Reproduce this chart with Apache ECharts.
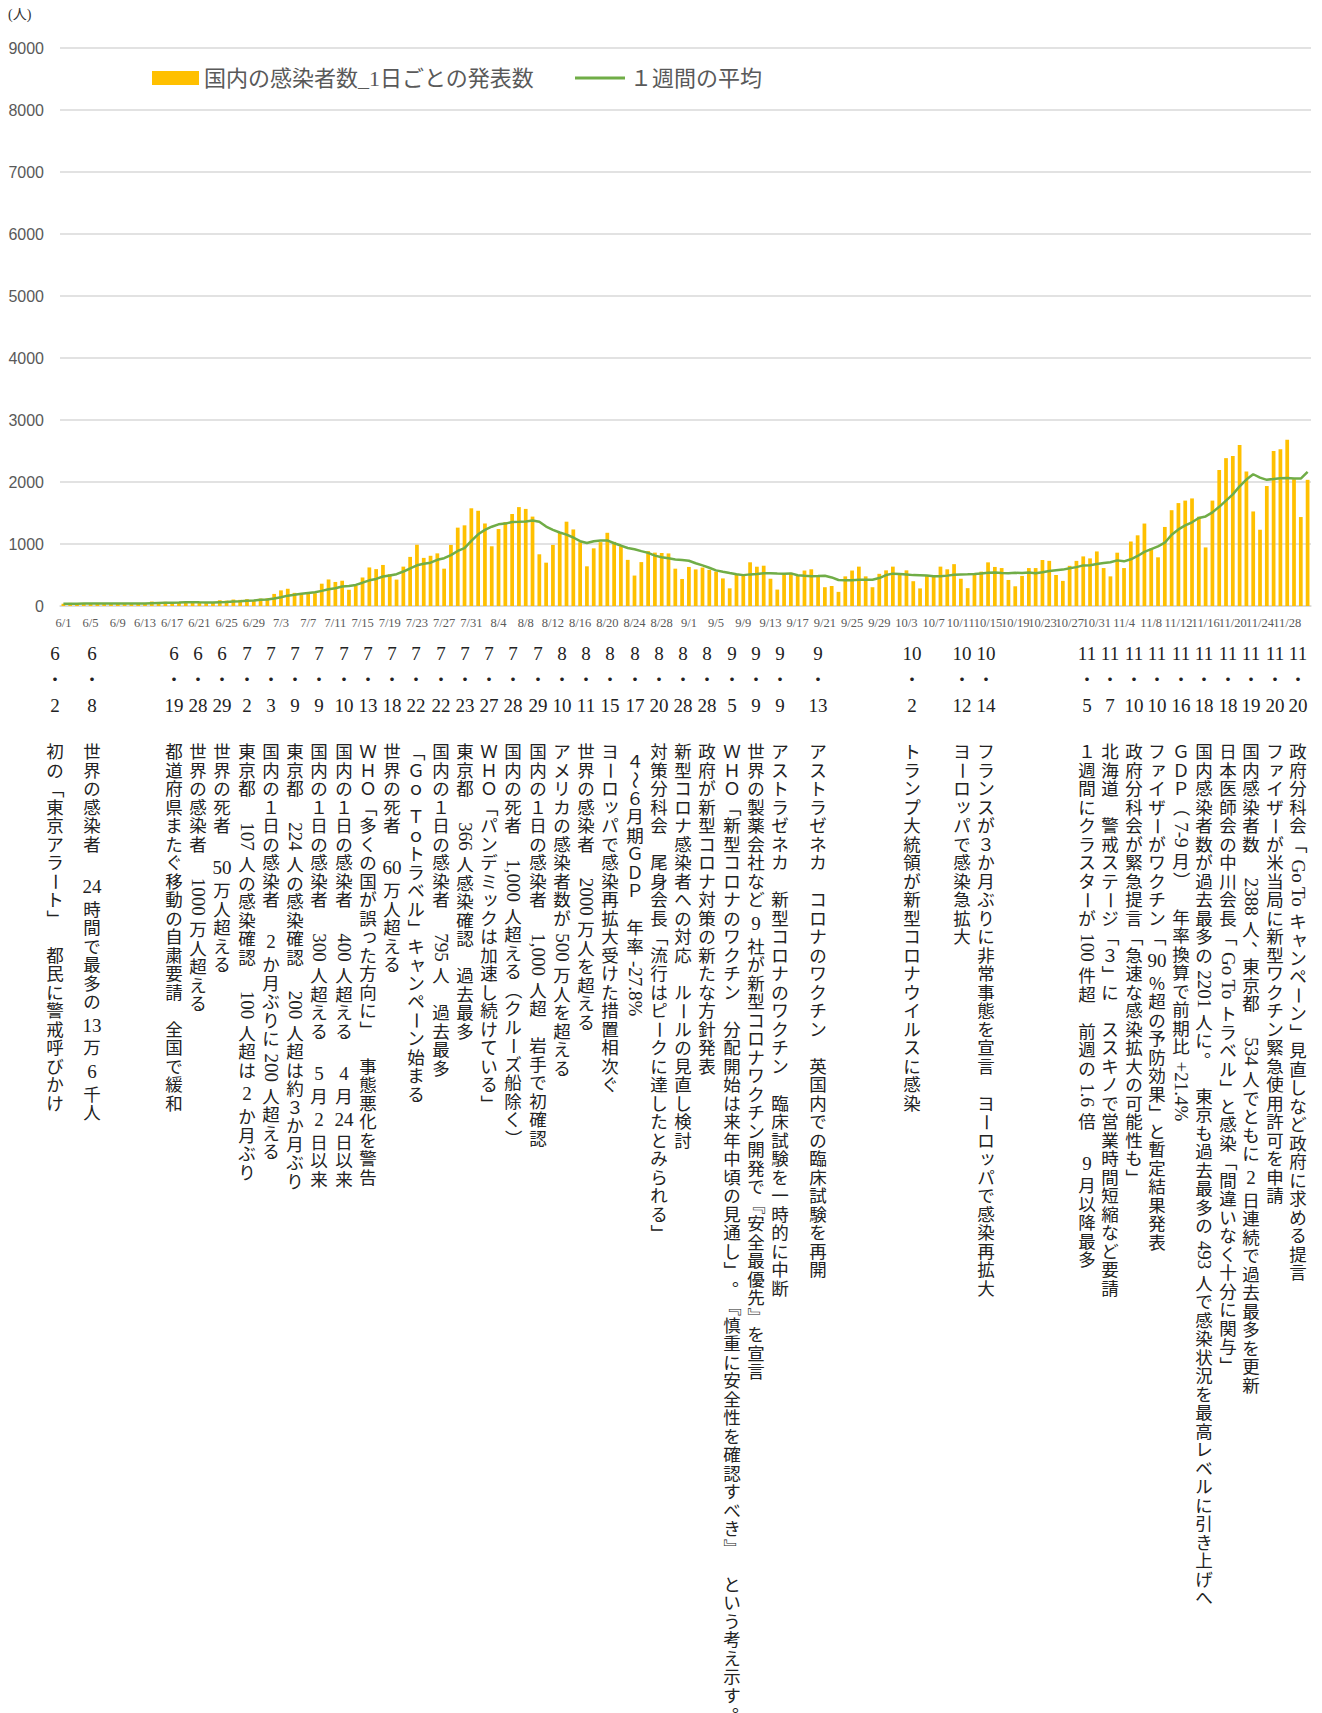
<!DOCTYPE html>
<html><head><meta charset="utf-8">
<script src="https://cdn.jsdelivr.net/npm/echarts@6/dist/echarts.min.js"></script>
<style>html,body{margin:0;padding:0;background:#fff}#c{width:1322px;height:1713px}</style>
</head><body><div id="c"></div>
<script>
// ---------------- data ----------------
const monthDays = [[6,30],[7,31],[8,31],[9,30],[10,31],[11,30],[12,1]];
const casesJun = [35,50,41,42,40,38,46,32,37,40,41,41,45,72,57,68,43,59,68,65,56,45,54,93,87,104,99,110,86,120];
const casesJul = [125,195,252,278,212,195,195,206,360,428,388,408,262,332,460,622,595,662,515,426,635,792,988,776,810,849,602,985,1264,1301,1576];
const casesAug = [1536,1331,963,1241,1354,1485,1595,1566,1442,834,699,985,1177,1360,1235,1028,640,930,1030,1181,1034,964,744,491,708,885,861,855,848,602,436];
const casesSep = [630,590,620,583,556,445,285,505,495,705,634,650,440,265,508,535,494,572,592,470,303,323,228,478,572,635,478,303,519,575];
const casesOct = [635,515,575,400,284,483,480,635,592,675,440,288,510,554,704,630,612,420,318,485,612,612,742,728,500,405,648,728,800,768,880];
const casesNov = [612,478,860,612,1040,1140,1330,930,785,1275,1545,1660,1700,1735,1440,945,1700,2195,2385,2420,2595,2170,1525,1230,1935,2500,2530,2680,2045,1435];
const casesDec = [2035];

const avgJun = [35,37,38,39,40,41,42,41,39,39,39,40,40,44,48,52,52,55,59,62,59,57,56,62,64,72,77,84,90,100];
const avgJul = [105,121,142,167,181,197,209,221,244,270,286,315,323,340,376,414,437,476,491,513,556,605,656,682,698,745,771,821,888,933,1049];
const avgAug = [1157,1227,1279,1317,1329,1356,1358,1362,1378,1360,1282,1229,1185,1152,1105,1045,1015,1045,1055,1058,1012,975,935,916,885,857,812,786,769,749,741];
const avgSep = [730,690,655,617,575,552,531,513,498,510,516,528,527,523,522,526,495,486,478,482,487,461,419,416,416,423,423,423,451,499];
const avgOct = [522,516,508,498,496,492,480,480,490,505,510,511,515,525,535,541,533,530,535,533,542,529,545,563,575,587,610,627,655,658,679];
const avgNov = [695,705,736,720,754,807,873,918,962,1021,1150,1235,1300,1350,1420,1445,1510,1600,1700,1800,1930,2040,2125,2070,2035,2050,2060,2065,2055,2055];
const avgDec = [2165];

const seriesBarName = '国内の感染者数_1日ごとの発表数';
const seriesLineName = '１週間の平均';
const yTicks = [0,1000,2000,3000,4000,5000,6000,7000,8000,9000];
const xLabelEvery = 4;

const eventMonth = [6,6,6,6,6,7,7,7,7,7,7,7,7,7,7,7,7,7,8,8,8,8,8,8,8,9,9,9,9,10,10,10,11,11,11,11,11,11,11,11,11,11];
const eventDay   = [2,8,19,28,29,2,3,9,9,10,13,18,22,22,23,27,28,29,10,11,15,17,20,28,28,5,9,9,13,2,12,14,5,7,10,10,16,18,18,19,20,20];
const eventText = [
 '初の「東京アラート」　都民に警戒呼びかけ',
 '世界の感染者　24時間で最多の13万6千人',
 '都道府県またぐ移動の自粛要請　全国で緩和',
 '世界の感染者　1000万人超える',
 '世界の死者　50万人超える',
 '東京都　107人の感染確認　100人超は2か月ぶり',
 '国内の１日の感染者　2か月ぶりに200人超える',
 '東京都　224人の感染確認　200人超は約３か月ぶり',
 '国内の１日の感染者　300人超える　5月2日以来',
 '国内の１日の感染者　400人超える　4月24日以来',
 'ＷＨＯ「多くの国が誤った方向に」　事態悪化を警告',
 '世界の死者　60万人超える',
 '「Ｇｏ Ｔｏトラベル」キャンペーン始まる',
 '国内の１日の感染者　795人　過去最多',
 '東京都　366人感染確認　過去最多',
 'ＷＨＯ「パンデミックは加速し続けている」',
 '国内の死者　1,000人超える（クルーズ船除く）',
 '国内の１日の感染者　1,000人超　岩手で初確認',
 'アメリカの感染者数が500万人を超える',
 '世界の感染者　2000万人を超える',
 'ヨーロッパで感染再拡大受けた措置相次ぐ',
 ' ４～６月期ＧＤＰ　年率-27.8%',
 '対策分科会　尾身会長「流行はピークに達したとみられる」',
 '新型コロナ感染者への対応　ルールの見直し検討',
 '政府が新型コロナ対策の新たな方針発表',
 'ＷＨＯ「新型コロナのワクチン　分配開始は来年中頃の見通し」。『慎重に安全性を確認すべき』　という考え示す。',
 '世界の製薬会社など9社が新型コロナワクチン開発で『安全最優先』を宣言',
 'アストラゼネカ　新型コロナのワクチン　臨床試験を一時的に中断',
 'アストラゼネカ　コロナのワクチン　英国内での臨床試験を再開',
 'トランプ大統領が新型コロナウイルスに感染',
 'ヨーロッパで感染急拡大',
 'フランスが３か月ぶりに非常事態を宣言　ヨーロッパで感染再拡大',
 '１週間にクラスターが100件超　前週の1.6倍　9月以降最多',
 '北海道　警戒ステージ「３」に　ススキノで営業時間短縮など要請',
 '政府分科会が緊急提言「急速な感染拡大の可能性も」',
 'ファイザーがワクチン「90％超の予防効果」と暫定結果発表',
 'ＧＤＰ（7-9月）　年率換算で前期比+21.4%',
 '国内感染者数が過去最多の2201人に。　東京も過去最多の493人で感染状況を最高レベルに引き上げへ',
 '日本医師会の中川会長「Go Toトラベル」と感染「間違いなく十分に関与」',
 '国内感染者数　2388人、東京都　534人でともに2日連続で過去最多を更新',
 'ファイザーが米当局に新型ワクチン緊急使用許可を申請',
 '政府分科会「Go Toキャンペーン」見直しなど政府に求める提言'
];

// ---------------- layout (not data) ----------------
const colX = [55,92,174,198,222,247,271,295,319,344,368,392,416,441,465,489,513,538,562,586,610,635,659,683,707,732,756,780,818,912,962,986,1087,1110,1134,1157,1181,1204,1228,1251,1275,1298];
const ROW_MONTH = 653, ROW_DOT = 680, ROW_DAY = 705, TEXT_TOP = 743;
const FS = 17.5, ADV = 18.5, FS_LATIN = 19;
const SERIF = '"Liberation Serif","Noto Sans CJK JP",serif';
const SANS = '"Noto Sans CJK JP","Liberation Sans",sans-serif';

// ---------------- build ----------------
const categories = [];
monthDays.forEach(([m, n]) => { for (let d = 1; d <= n; d++) categories.push(m + '/' + d); });
const cases = [].concat(casesJun, casesJul, casesAug, casesSep, casesOct, casesNov, casesDec);
const avg = [].concat(avgJun, avgJul, avgAug, avgSep, avgOct, avgNov, avgDec);

const mctx = document.createElement('canvas').getContext('2d');
function tw(s, fs) { mctx.font = fs + 'px "Liberation Serif","Noto Sans CJK JP"'; return mctx.measureText(s).width; }
function txt(s, x, y, rot, fs, fam, fill) {
  return { type: 'text', x: x, y: y, rotation: rot || 0, silent: true, z: 10,
    style: { text: s, fontSize: fs || FS, fontFamily: fam || SERIF, fill: fill || '#222',
      align: 'center', verticalAlign: 'middle', textAlign: 'center', textVerticalAlign: 'middle' } };
}
const ROT = '「」『』（）ー～－—';
const PUNCT = '。、';
const SMALL = 'ぁぃぅぇぉっゃゅょァィゥェォッャュョ';
function verticalText(str, cx, top, out) {
  const ch = Array.from(str);
  let y = top, i = 0;
  while (i < ch.length) {
    const c = ch[i];
    if (/[!-~]/.test(c)) {
      let j = i; while (j < ch.length && /[ -~]/.test(ch[j])) j++;
      const run = ch.slice(i, j).join('').replace(/\s+$/, '');
      j = i + run.length;
      if (/^\d{1,2}$/.test(run)) { const cell = ADV * 1.5; out.push(txt(run, cx, y + cell / 2, 0, FS_LATIN)); y += cell; }
      else { const w = tw(run, FS_LATIN); const pad = FS * 0.3; out.push(txt(run, cx, y + pad + w / 2, -Math.PI / 2, FS_LATIN)); y += w + 2 * pad; }
      i = j; continue;
    }
    if (c === ' ') { y += ADV * 0.5; i++; continue; }
    if (c === '　') { y += ADV; i++; continue; }
    let dx = 0, dy = 0, rot = 0;
    if (ROT.indexOf(c) >= 0) rot = -Math.PI / 2;
    else if (PUNCT.indexOf(c) >= 0) { dx = FS * 0.5; dy = -FS * 0.5; }
    else if (SMALL.indexOf(c) >= 0) { dx = FS * 0.08; dy = -FS * 0.08; }
    out.push(txt(c, cx + dx, y + ADV / 2 + dy, rot));
    y += ADV; i++;
  }
}

const elements = [];
elements.push({ type: 'text', x: 8, y: 14, silent: true,
  style: { text: '(人)', fontSize: 14, fontFamily: SERIF, fill: '#333', align: 'left', verticalAlign: 'middle', textAlign: 'left', textVerticalAlign: 'middle' } });
eventText.forEach((t, k) => {
  const cx = colX[k];
  elements.push(txt(String(eventMonth[k]), cx, ROW_MONTH, 0, 19));
  elements.push(txt('・', cx, ROW_DOT, 0, 17));
  elements.push(txt(String(eventDay[k]), cx, ROW_DAY, 0, 19));
  verticalText(t, cx, TEXT_TOP, elements);
});

const chart = echarts.init(document.getElementById('c'), null, { renderer: 'svg', width: 1322, height: 1713 });
chart.setOption({
  animation: false,
  backgroundColor: '#fff',
  textStyle: { fontFamily: SANS },
  legend: [
    { left: 147, top: 62, itemWidth: 47, itemHeight: 14,
      textStyle: { fontSize: 22, color: '#595959', fontFamily: SERIF },
      data: [{ name: seriesBarName, icon: 'rect' }] },
    { left: 570, top: 62, itemWidth: 50, itemHeight: 3,
      textStyle: { fontSize: 22, color: '#595959', fontFamily: SERIF },
      data: [{ name: seriesLineName, icon: 'rect' }] }
  ],
  grid: { left: 60, top: 48, width: 1251, height: 558 },
  xAxis: {
    type: 'category', data: categories,
    axisLine: { lineStyle: { color: '#d9d9d9', width: 1.5 } },
    axisTick: { show: false },
    axisLabel: { interval: 0, fontSize: 12.5, color: '#595959', fontFamily: SERIF, margin: 11,
      formatter: (v, idx) => (idx % xLabelEvery === 0 ? v : '') }
  },
  yAxis: {
    type: 'value', min: yTicks[0], max: yTicks[yTicks.length - 1], interval: yTicks[1] - yTicks[0],
    axisLine: { show: false }, axisTick: { show: false },
    axisLabel: { fontSize: 16, color: '#595959', margin: 16, fontFamily: '"Liberation Sans",sans-serif',
      formatter: v => String(v) },
    splitLine: { lineStyle: { color: '#d9d9d9', width: 1.5 } }
  },
  series: [
    { name: seriesBarName, type: 'bar', data: cases, barWidth: '55%', itemStyle: { color: '#FFC000' } },
    { name: seriesLineName, type: 'line', data: avg, symbol: 'none', showSymbol: false,
      lineStyle: { color: '#70AD47', width: 2.5 }, itemStyle: { color: '#70AD47' } }
  ],
  graphic: { elements: elements }
});
</script>
</body></html>
